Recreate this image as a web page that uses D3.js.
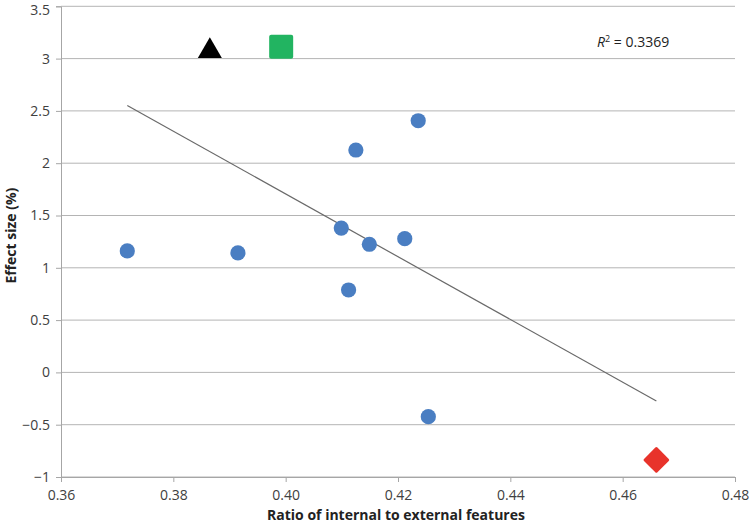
<!DOCTYPE html>
<html>
<head>
<meta charset="utf-8">
<script src="https://cdn.jsdelivr.net/npm/d3@7/dist/d3.min.js"></script>
<style>
  html, body { margin: 0; padding: 0; background: #fff; }
  svg { display: block; }
  text { font-family: "Open Sans", "Liberation Sans", sans-serif; }
</style>
</head>
<body>
<svg id="chart" width="750" height="527"></svg>
<script>
// ---- data ----
const blueX = [0.3718, 0.3915, 0.4099, 0.4125, 0.4236, 0.4149, 0.4212, 0.4112, 0.4254];
const blueY = [1.161, 1.142, 1.380, 2.126, 2.406, 1.225, 1.278, 0.788, -0.423];
const triangleX = [0.3865];
const triangleY = [3.10];
const squareX = [0.3992];
const squareY = [3.114];
const diamondX = [0.4660];
const diamondY = [-0.837];
const xTicks = [0.36, 0.38, 0.40, 0.42, 0.44, 0.46, 0.48];
const xTickLabels = ["0.36", "0.38", "0.40", "0.42", "0.44", "0.46", "0.48"];
const yTicks = [-1, -0.5, 0, 0.5, 1, 1.5, 2, 2.5, 3, 3.5];
const yTickLabels = ["\u22121", "\u22120.5", "0", "0.5", "1", "1.5", "2", "2.5", "3", "3.5"];
const r2Label = "0.3369";
const xTitle = "Ratio of internal to external features";
const yTitle = "Effect size (%)";

// ---- layout ----
const svg = d3.select("#chart");
const L = 61, R = 735, T = 6.3, B = 477;
const x = d3.scaleLinear().domain([0.36, 0.48]).range([L, R]);
const y = d3.scaleLinear().domain([-1, 3.5]).range([B, T]);

const gridColor = "#b4b4b4";
const axisColor = "#a6a6a6";
const textColor = "#404040";

// gridlines
svg.append("g").selectAll("line").data(yTicks).join("line")
  .attr("x1", L).attr("x2", R)
  .attr("y1", d => y(d)).attr("y2", d => y(d))
  .attr("stroke", gridColor).attr("stroke-width", 1);

// y axis
const yAxis = d3.axisLeft(y).tickValues(yTicks)
  .tickFormat((d, i) => yTickLabels[i]).tickSize(5).tickPadding(6);
const gy = svg.append("g").attr("transform", `translate(${L},0)`).call(yAxis);
gy.select(".domain").attr("stroke", axisColor);
gy.selectAll(".tick line").attr("stroke", axisColor);
gy.selectAll(".tick text").attr("fill", textColor)
  .style("font-size", "14px").style("font-family", "'Open Sans', sans-serif");
gy.selectAll(".tick text").filter(d => d === 3.5).attr("dy", "0.55em");

// x axis
const xAxis = d3.axisBottom(x).tickValues(xTicks)
  .tickFormat((d, i) => xTickLabels[i]).tickSize(5).tickPadding(8);
const gx = svg.append("g").attr("transform", `translate(0,${B})`).call(xAxis);
gx.select(".domain").attr("stroke", axisColor);
gx.selectAll(".tick line").attr("stroke", axisColor);
gx.selectAll(".tick text").attr("fill", textColor)
  .style("font-size", "14px").style("font-family", "'Open Sans', sans-serif");

// linear regression over all points
const allX = blueX.concat(triangleX, squareX, diamondX);
const allY = blueY.concat(triangleY, squareY, diamondY);
const mx = d3.mean(allX), my = d3.mean(allY);
let sxy = 0, sxx = 0;
allX.forEach((xv, i) => { sxy += (xv - mx) * (allY[i] - my); sxx += (xv - mx) * (xv - mx); });
const slope = sxy / sxx, intercept = my - slope * mx;
const [x0, x1] = d3.extent(allX);
svg.append("line")
  .attr("x1", x(x0)).attr("y1", y(intercept + slope * x0))
  .attr("x2", x(x1)).attr("y2", y(intercept + slope * x1))
  .attr("stroke", "#6a6a6a").attr("stroke-width", 1.2);

// blue circles
svg.append("g").selectAll("circle").data(blueX.map((d, i) => [d, blueY[i]])).join("circle")
  .attr("cx", d => x(d[0])).attr("cy", d => y(d[1])).attr("r", 7.6)
  .attr("fill", "#4a7ec2");

// triangle
const triSym = d3.symbol().type(d3.symbolTriangle).size(250);
svg.append("g").selectAll("path").data(triangleX.map((d, i) => [d, triangleY[i]])).join("path")
  .attr("d", triSym)
  .attr("transform", d => `translate(${x(d[0])},${y(d[1]) + 3})`)
  .attr("fill", "#000");

// square
svg.append("g").selectAll("rect").data(squareX.map((d, i) => [d, squareY[i]])).join("rect")
  .attr("x", d => x(d[0]) - 12).attr("y", d => y(d[1]) - 12)
  .attr("width", 24).attr("height", 24).attr("rx", 2)
  .attr("fill", "#22b461");

// diamond
svg.append("g").selectAll("rect").data(diamondX.map((d, i) => [d, diamondY[i]])).join("rect")
  .attr("x", -9.5).attr("y", -9.5).attr("width", 19).attr("height", 19).attr("rx", 1.5)
  .attr("transform", d => `translate(${x(d[0])},${y(d[1])}) rotate(45)`)
  .attr("fill", "#e8332b");

// R² label
const r2 = svg.append("text").attr("x", 597).attr("y", 47)
  .attr("fill", "#222").style("font-size", "14px");
r2.append("tspan").text("R").style("font-style", "italic");
r2.append("tspan").text("2").attr("dy", -5).style("font-size", "9px");
r2.append("tspan").text(" = " + r2Label).attr("dy", 5);

// axis titles
svg.append("text").attr("x", (L + R) / 2 - 2).attr("y", 520)
  .attr("text-anchor", "middle").attr("fill", "#222")
  .style("font-size", "14px").style("font-weight", "bold").text(xTitle);
svg.append("text")
  .attr("transform", `translate(16,${(T + B) / 2 - 6}) rotate(-90)`)
  .attr("text-anchor", "middle").attr("fill", "#222")
  .style("font-size", "14px").style("font-weight", "bold").text(yTitle);
</script>
</body>
</html>
